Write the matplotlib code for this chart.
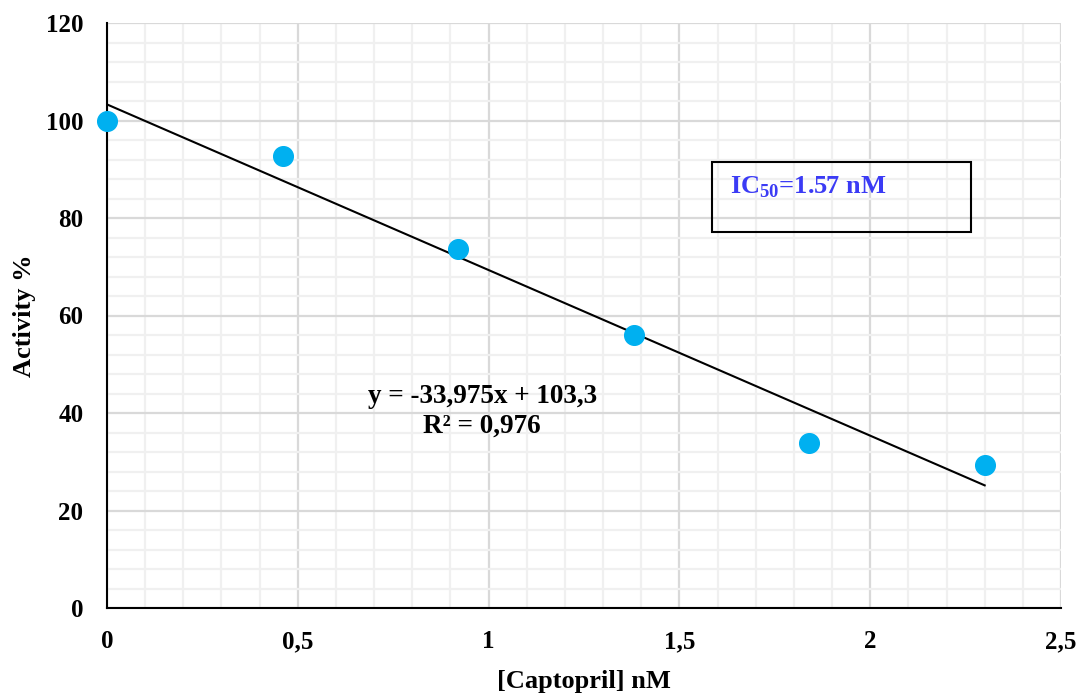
import numpy as np
import matplotlib.pyplot as plt
from matplotlib.ticker import MultipleLocator, FuncFormatter

# Data
conc = [0, 0.46, 0.92, 1.38, 1.84, 2.30]
activity = [100, 92.7, 73.6, 56.0, 33.8, 29.4]

# Linear trendline shown on the chart
slope = -33.975
intercept = 103.3

plt.rcParams['font.family'] = ['Liberation Serif', 'DejaVu Serif']
plt.rcParams['font.weight'] = 'bold'
plt.rcParams['mathtext.fontset'] = 'custom'
plt.rcParams['mathtext.rm'] = 'Liberation Serif:bold'
plt.rcParams['mathtext.bf'] = 'Liberation Serif:bold'

fig = plt.figure(figsize=(10.81, 6.93), dpi=100)
ax = fig.add_axes([107 / 1081, 1 - 608 / 693, (1061 - 107) / 1081, (608 - 23) / 693])

ax.set_xlim(0, 2.5)
ax.set_ylim(0, 120)

# Grid like the Excel chart: major and minor lines
ax.xaxis.set_major_locator(MultipleLocator(0.5))
ax.xaxis.set_minor_locator(MultipleLocator(0.1))
ax.yaxis.set_major_locator(MultipleLocator(20))
ax.yaxis.set_minor_locator(MultipleLocator(4))
ax.grid(True, which="major", color="#d9d9d9", linewidth=1.6)
ax.grid(True, which="minor", color="#f0f0f0", linewidth=1.6)
ax.set_axisbelow(True)

ax.xaxis.set_major_formatter(FuncFormatter(lambda v, p: f"{v:g}".replace(".", ",")))
ax.tick_params(axis="y", which="both", length=0, labelsize=18, pad=17)
ax.tick_params(axis="x", which="both", length=0, labelsize=18, pad=16)
for lbl in ax.get_xticklabels() + ax.get_yticklabels():
    lbl.set_fontweight("bold")

for s in ["top", "right"]:
    ax.spines[s].set_visible(False)
ax.spines["left"].set_linewidth(1.5)
ax.spines["bottom"].set_linewidth(1.5)

# Trendline
xt = np.array([conc[0], conc[-1]])
ax.plot(xt, slope * xt + intercept, color="black", linewidth=1.5, zorder=3)

# Points
ax.scatter(conc, activity, s=200, color="#00b0f0", zorder=4, clip_on=False)

ax.text(0.983, 40.3, "y = -33,975x + 103,3\nR² = 0,976", ha="center", va="center",
        fontsize=19.5, fontweight="bold", linespacing=1.22)

# IC50 box
ax.text(1.633, 86.3, r"IC$_{\mathbf{50}}$=1.57 nM", ha="left", va="center",
        fontsize=19, fontweight="bold", color="#3b3bf5")
ax.add_patch(plt.Rectangle((1.585, 77.2), 0.68, 14.3, fill=False,
                           edgecolor="black", linewidth=1.5, zorder=5))

ax.set_xlabel("[Captopril] nM", fontsize=19, fontweight="bold", labelpad=12)
ax.set_ylabel("Activity %", fontsize=19, fontweight="bold", labelpad=7)

fig.savefig("out.png", dpi=100)
